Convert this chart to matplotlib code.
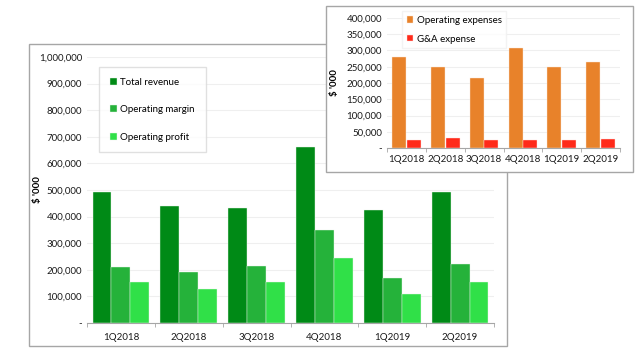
import matplotlib
matplotlib.use("Agg")
import matplotlib.pyplot as plt
from matplotlib.patches import Rectangle
from matplotlib.ticker import FuncFormatter
import numpy as np

plt.rcParams['font.family'] = ['Lato', 'DejaVu Sans']

quarters = ["1Q2018", "2Q2018", "3Q2018", "4Q2018", "1Q2019", "2Q2019"]
total_revenue = [492500, 441000, 431000, 660000, 423000, 491000]
operating_margin = [211000, 191000, 215000, 351000, 171000, 223000]
operating_profit = [152500, 129000, 156000, 244000, 108000, 156000]
operating_expenses = [280000, 248000, 214000, 309000, 248000, 266000]
ga_expense = [26000, 32000, 26000, 26000, 26000, 29000]

W, H = 640, 352
fig = plt.figure(figsize=(W/100, H/100), dpi=100)
fig.patch.set_facecolor('white')

def fx(x): return x / W
def fy(y): return 1 - y / H

# main box
fig.add_artist(Rectangle((fx(29), fy(346)), fx(507) - fx(29), fy(44) - fy(346),
                         transform=fig.transFigure, facecolor='white',
                         edgecolor='#a6a6a6', lw=1.0, zorder=-1))
# inset box
fig.add_artist(Rectangle((fx(326), fy(172)), fx(633) - fx(326), fy(6) - fy(172),
                         transform=fig.transFigure, facecolor='white',
                         edgecolor='#a6a6a6', lw=1.0, zorder=1))

def fmt(v, pos):
    if v == 0:
        return "-"
    return f"{int(v):,}"

def style(ax):
    for s in ['top', 'right', 'left']:
        ax.spines[s].set_visible(False)
    ax.spines['bottom'].set_color('#a6a6a6')
    ax.yaxis.set_major_formatter(FuncFormatter(fmt))
    ax.tick_params(axis='y', length=0, labelsize=7, colors='#1a1a1a')
    ax.tick_params(axis='x', length=3, color='#a6a6a6', labelsize=7, colors='#1a1a1a')
    ax.yaxis.grid(True, color='#efefef', lw=0.8)
    ax.set_axisbelow(True)
    ax.patch.set_alpha(0)

# main axes
ax = fig.add_axes([fx(87), fy(323), fx(494) - fx(87), fy(57) - fy(323)])
ax.set_zorder(0)
x = np.arange(len(quarters))
bw = 0.278
cols = ['#008a16', '#25b23a', '#30e048']
for i, (vals, lab) in enumerate([(total_revenue, "Total revenue"),
                                 (operating_margin, "Operating margin"),
                                 (operating_profit, "Operating profit")]):
    ax.bar(x + (i - 1) * bw, vals, bw, color=cols[i], edgecolor='#e8f5e8', lw=0.3, label=lab)
ax.set_xlim(-0.5, len(quarters) - 0.5)
ax.set_ylim(0, 1000000)
ax.set_yticks(np.arange(0, 1000001, 100000))
ax.set_xticks(x)
ax.set_xticklabels(quarters)
ax.set_xticks(np.arange(-0.5, len(quarters), 1), minor=True)
style(ax)
ax.tick_params(axis='x', which='major', length=0, pad=7)
ax.tick_params(axis='x', which='minor', length=3, color='#a6a6a6')
ax.set_ylabel("$ '000", fontsize=7, fontweight='bold')
ax.yaxis.set_label_coords((42 - 87) / 407, 0.5)
leg = ax.legend(loc='upper left', fontsize=7,
                frameon=True, fancybox=False, edgecolor='#d9d9d9', labelspacing=1.9,
                handlelength=0.7, handleheight=0.7, handletextpad=0.4, borderpad=1.1,
                borderaxespad=0)
leg.set_bbox_to_anchor((fx(99), fy(67)), transform=fig.transFigure)

# inset axes
ax2 = fig.add_axes([fx(387), fy(148), fx(620) - fx(387), fy(18) - fy(148)])
ax2.set_zorder(2)
bw2 = 0.36
ax2.bar(x - bw2 / 2 - 0.01, operating_expenses, bw2, color='#e8822a', edgecolor='#fbe6d4', lw=0.3,
        label="Operating expenses")
ax2.bar(x + bw2 / 2 + 0.01, ga_expense, bw2, color='#ff2a1a', edgecolor='#ffe0dc', lw=0.3,
        label="G&A expense")
ax2.set_xlim(-0.5, len(quarters) - 0.5)
ax2.set_ylim(0, 400000)
ax2.set_yticks(np.arange(0, 400001, 50000))
ax2.set_xticks(x)
ax2.set_xticklabels(quarters)
ax2.set_xticks(np.arange(-0.5, len(quarters), 1), minor=True)
style(ax2)
ax2.tick_params(axis='x', which='major', length=0, pad=5)
ax2.tick_params(axis='x', which='minor', length=3, color='#a6a6a6')
ax2.set_ylabel("$ '000", fontsize=7, fontweight='bold')
ax2.yaxis.set_label_coords((339 - 387) / 233, 0.5)
leg2 = ax2.legend(loc='upper left', fontsize=7, frameon=True, fancybox=False,
                  edgecolor='#f0f0f0', labelspacing=1.0, handlelength=0.6, handleheight=0.6,
                  handletextpad=0.4, borderpad=0.5, borderaxespad=0)
leg2.set_bbox_to_anchor((fx(402), fy(11)), transform=fig.transFigure)

fig.savefig("out.png", dpi=100)
